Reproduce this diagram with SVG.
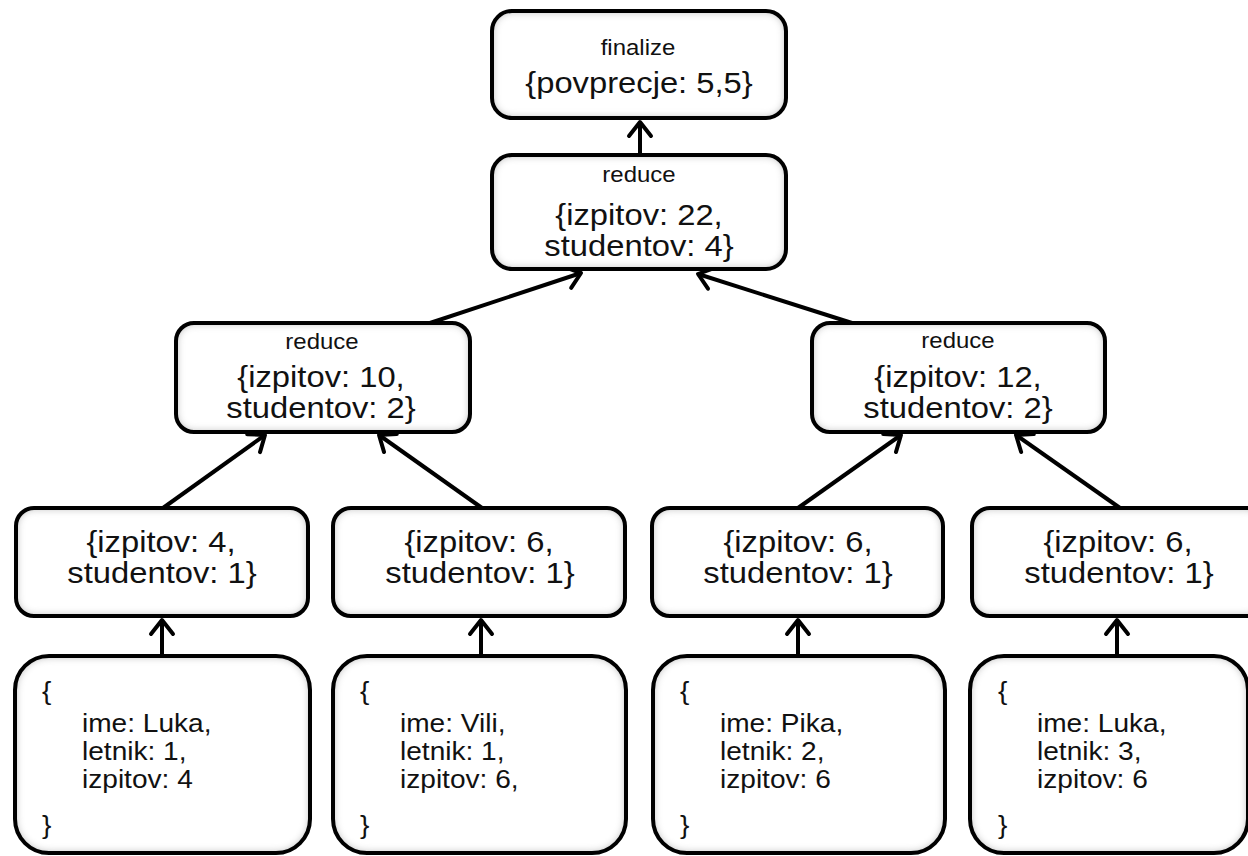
<svg xmlns="http://www.w3.org/2000/svg" width="1248" height="856" viewBox="0 0 1248 856">
<defs>
<style>
.fill{fill:#fff;filter:url(#inner)}
.edge{fill:none;stroke:#000;stroke-width:4}
text{font-family:"Liberation Sans",Arial,sans-serif;fill:#111}
.sm{font-size:22px;text-anchor:middle}
.bg{font-size:29.5px;text-anchor:middle}
.bt{font-size:26px}
.con{stroke:#000;stroke-width:4;fill:none;marker-end:url(#ah)}
</style>
<filter id="inner" x="-5%" y="-5%" width="110%" height="110%">
<feFlood flood-color="#8a8a8a"/>
<feComposite in2="SourceAlpha" operator="out"/>
<feGaussianBlur stdDeviation="4"/>
<feComposite in2="SourceAlpha" operator="in" result="sh"/>
<feMerge><feMergeNode in="SourceGraphic"/><feMergeNode in="sh"/></feMerge>
</filter>
<marker id="ah" markerUnits="userSpaceOnUse" markerWidth="40" markerHeight="40" viewBox="-20 -20 40 40" refX="0" refY="0" orient="auto" overflow="visible">
<path d="M-14,-11 L0,0 L-14,11" fill="none" stroke="#000" stroke-width="4" stroke-linecap="round" stroke-linejoin="round"/>
</marker>
</defs>
<rect width="1248" height="856" fill="#fff"/>

<g id="connectors">
<line class="con" x1="640" y1="155" x2="640" y2="122"/>
<line class="con" x1="430" y1="323" x2="581" y2="273"/>
<line class="con" x1="852" y1="323" x2="698" y2="274"/>
<line class="con" x1="163" y1="508" x2="265" y2="435"/>
<line class="con" x1="482" y1="508" x2="379" y2="435"/>
<line class="con" x1="798" y1="508" x2="901" y2="435"/>
<line class="con" x1="1120" y1="508" x2="1016" y2="435"/>
<line class="con" x1="162" y1="655" x2="162" y2="620"/>
<line class="con" x1="481" y1="655" x2="481" y2="620"/>
<line class="con" x1="798" y1="655" x2="798" y2="620"/>
<line class="con" x1="1117" y1="655" x2="1117" y2="620"/>
</g>

<g id="finalize">
<rect class="fill" x="492" y="11" width="294" height="107" rx="20"/>
<rect class="edge" x="492" y="11" width="294" height="107" rx="20"/>
<text class="sm" transform="translate(638 55) scale(1.09 1)">finalize</text>
<text class="bg" transform="translate(639 93) scale(1.11 1)">{povprecje: 5,5}</text>
</g>

<g id="reduce-top">
<rect class="fill" x="492" y="155" width="294" height="114" rx="20"/>
<rect class="edge" x="492" y="155" width="294" height="114" rx="20"/>
<text class="sm" transform="translate(639 182) scale(1.09 1)">reduce</text>
<text class="bg" transform="translate(639 225) scale(1.11 1)">{izpitov: 22,</text>
<text class="bg" transform="translate(639 256) scale(1.11 1)">studentov: 4}</text>
</g>

<g id="reduce-left">
<rect class="fill" x="176" y="323" width="294" height="109" rx="18"/>
<rect class="edge" x="176" y="323" width="294" height="109" rx="18"/>
<text class="sm" transform="translate(322 349) scale(1.09 1)">reduce</text>
<text class="bg" transform="translate(321 387) scale(1.11 1)">{izpitov: 10,</text>
<text class="bg" transform="translate(321 418) scale(1.11 1)">studentov: 2}</text>
</g>

<g id="reduce-right">
<rect class="fill" x="812" y="323" width="293" height="109" rx="18"/>
<rect class="edge" x="812" y="323" width="293" height="109" rx="18"/>
<text class="sm" transform="translate(958 348) scale(1.09 1)">reduce</text>
<text class="bg" transform="translate(958 387) scale(1.11 1)">{izpitov: 12,</text>
<text class="bg" transform="translate(958 418) scale(1.11 1)">studentov: 2}</text>
</g>

<g id="map1">
<rect class="fill" x="16" y="508" width="292" height="108" rx="18"/>
<rect class="edge" x="16" y="508" width="292" height="108" rx="18"/>
<text class="bg" transform="translate(161 552) scale(1.11 1)">{izpitov: 4,</text>
<text class="bg" transform="translate(162 583) scale(1.11 1)">studentov: 1}</text>
</g>

<g id="map2">
<rect class="fill" x="333" y="508" width="292" height="108" rx="18"/>
<rect class="edge" x="333" y="508" width="292" height="108" rx="18"/>
<text class="bg" transform="translate(479 552) scale(1.11 1)">{izpitov: 6,</text>
<text class="bg" transform="translate(480 583) scale(1.11 1)">studentov: 1}</text>
</g>

<g id="map3">
<rect class="fill" x="652" y="508" width="291" height="108" rx="18"/>
<rect class="edge" x="652" y="508" width="291" height="108" rx="18"/>
<text class="bg" transform="translate(798 552) scale(1.11 1)">{izpitov: 6,</text>
<text class="bg" transform="translate(798 583) scale(1.11 1)">studentov: 1}</text>
</g>

<g id="map4">
<rect class="fill" x="972" y="508" width="292" height="108" rx="18"/>
<rect class="edge" x="972" y="508" width="292" height="108" rx="18"/>
<text class="bg" transform="translate(1118 552) scale(1.11 1)">{izpitov: 6,</text>
<text class="bg" transform="translate(1119 583) scale(1.11 1)">studentov: 1}</text>
</g>

<g id="doc1">
<rect class="fill" x="15" y="656" width="295" height="197" rx="34"/>
<rect class="edge" x="15" y="656" width="295" height="197" rx="34"/>
<text class="bt" transform="translate(42 700) scale(1.08 1)">{</text>
<text class="bt" transform="translate(82 732) scale(1.08 1)">ime: Luka,</text>
<text class="bt" transform="translate(82 760) scale(1.08 1)">letnik: 1,</text>
<text class="bt" transform="translate(82 788) scale(1.08 1)">izpitov: 4</text>
<text class="bt" transform="translate(42 834) scale(1.08 1)">}</text>
</g>

<g id="doc2">
<rect class="fill" x="333" y="656" width="293" height="197" rx="34"/>
<rect class="edge" x="333" y="656" width="293" height="197" rx="34"/>
<text class="bt" transform="translate(360 700) scale(1.08 1)">{</text>
<text class="bt" transform="translate(400 732) scale(1.08 1)">ime: Vili,</text>
<text class="bt" transform="translate(400 760) scale(1.08 1)">letnik: 1,</text>
<text class="bt" transform="translate(400 788) scale(1.08 1)">izpitov: 6,</text>
<text class="bt" transform="translate(360 834) scale(1.08 1)">}</text>
</g>

<g id="doc3">
<rect class="fill" x="653" y="656" width="292" height="197" rx="34"/>
<rect class="edge" x="653" y="656" width="292" height="197" rx="34"/>
<text class="bt" transform="translate(680 700) scale(1.08 1)">{</text>
<text class="bt" transform="translate(720 732) scale(1.08 1)">ime: Pika,</text>
<text class="bt" transform="translate(720 760) scale(1.08 1)">letnik: 2,</text>
<text class="bt" transform="translate(720 788) scale(1.08 1)">izpitov: 6</text>
<text class="bt" transform="translate(680 834) scale(1.08 1)">}</text>
</g>

<g id="doc4">
<rect class="fill" x="970" y="656" width="278" height="197" rx="34"/>
<rect class="edge" x="970" y="656" width="278" height="197" rx="34"/>
<text class="bt" transform="translate(998 700) scale(1.08 1)">{</text>
<text class="bt" transform="translate(1037 732) scale(1.08 1)">ime: Luka,</text>
<text class="bt" transform="translate(1037 760) scale(1.08 1)">letnik: 3,</text>
<text class="bt" transform="translate(1037 788) scale(1.08 1)">izpitov: 6</text>
<text class="bt" transform="translate(998 834) scale(1.08 1)">}</text>
</g>
</svg>
